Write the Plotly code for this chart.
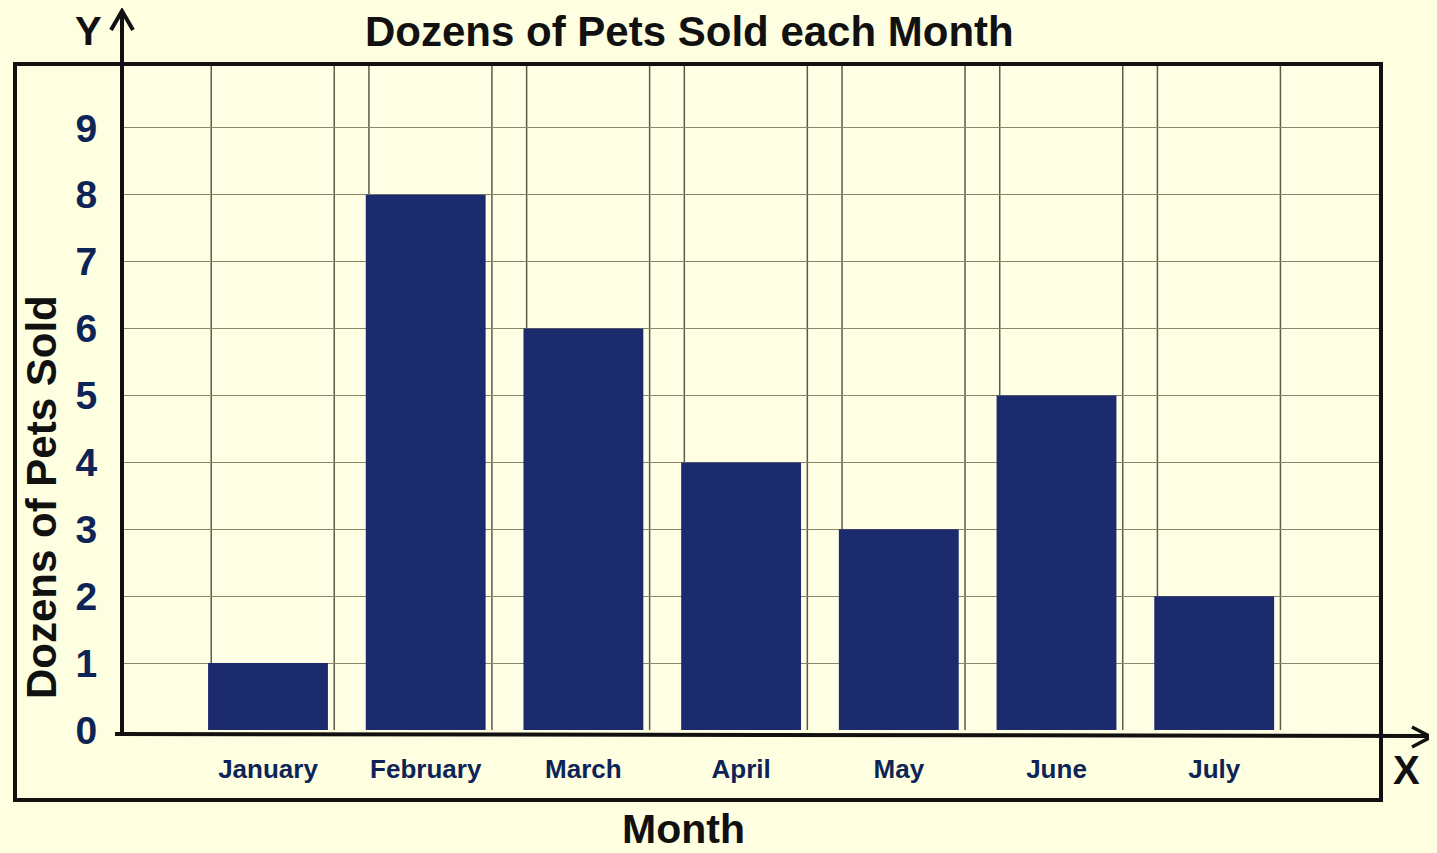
import plotly.graph_objects as go

months = ["January", "February", "March", "April", "May", "June", "July"]
dozens_sold = [1, 8, 6, 4, 3, 5, 2]
y_ticks = [0, 1, 2, 3, 4, 5, 6, 7, 8, 9]

O = 8  # page body margin offset
W, H = 1429, 845
L, R, T, B = 120, 1381, 62, 730  # plot area in screen pixels

def px(x):
    return (x - L) / (R - L)

def py(y):
    return (B - y) / (B - T)

BG = "#FEFEE0"
NAVY = "#1C2B6E"
LABEL = "#0E2456"

fig = go.Figure()
fig.add_trace(go.Bar(
    x=list(range(len(months))), y=dozens_sold,
    width=0.76, marker=dict(color=NAVY, line=dict(width=0)),
    hoverinfo="skip", showlegend=False,
))

shapes = []
for i in range(len(months)):
    for dx in (-0.36, 0.42):
        shapes.append(dict(type="line", xref="x", yref="paper",
                           x0=i + dx, x1=i + dx, y0=0, y1=1,
                           line=dict(color="#5a5a4a", width=1.5), layer="below"))
shapes.append(dict(type="rect", xref="paper", yref="paper",
                   x0=px(15), x1=px(1381), y0=py(800), y1=py(64),
                   line=dict(color="#111111", width=4), fillcolor="rgba(0,0,0,0)"))
shapes.append(dict(type="line", xref="paper", yref="paper",
                   x0=px(122), x1=px(122), y0=py(735), y1=py(12),
                   line=dict(color="#111111", width=4)))
shapes.append(dict(type="path", xref="paper", yref="paper",
                   path=f"M {px(111)} {py(30)} L {px(122)} {py(11)} L {px(133)} {py(30)}",
                   line=dict(color="#111111", width=4)))
shapes.append(dict(type="line", xref="paper", yref="paper",
                   x0=px(115), x1=px(1430), y0=py(734), y1=py(736),
                   line=dict(color="#111111", width=4)))
shapes.append(dict(type="path", xref="paper", yref="paper",
                   path=f"M {px(1412)} {py(727)} L {px(1431)} {py(737)} L {px(1412)} {py(747)}",
                   line=dict(color="#111111", width=3.5)))

FONT = "Liberation Sans, Arial, sans-serif"
annotations = [
    dict(text="<b>Dozens of Pets Sold each Month</b>", x=px(689), y=py(31),
         font=dict(size=42, color="#111111", family=FONT)),
    dict(text="<b>Y</b>", x=px(88), y=py(31),
         font=dict(size=40, color="#111111", family=FONT)),
    dict(text="<b>X</b>", x=px(1406), y=py(770),
         font=dict(size=40, color="#111111", family=FONT)),
    dict(text="<b>Month</b>", x=px(683), y=py(829),
         font=dict(size=41, color="#111111", family=FONT)),
    dict(text="<b>Dozens of Pets Sold</b>", x=px(42), y=py(497), textangle=-90,
         font=dict(size=42, color="#111111", family=FONT)),
]
for a in annotations:
    a.update(xref="paper", yref="paper", showarrow=False,
             xanchor="center", yanchor="middle")

fig.update_layout(
    width=W, height=H,
    margin=dict(l=L - O, r=W - (R - O), t=T - O, b=H - (B - O), pad=0),
    paper_bgcolor=BG, plot_bgcolor="#FFFFE6",
    shapes=shapes, annotations=annotations,
    xaxis=dict(range=[(L - 268) / 157.7, (R - 268) / 157.7],
               tickmode="array", tickvals=list(range(len(months))), ticktext=months,
               tickfont=dict(size=26, color=LABEL, family=FONT, weight="bold"),
               ticks="outside", ticklen=16, tickcolor="rgba(0,0,0,0)",
               showgrid=False, zeroline=False, showline=False, fixedrange=True),
    yaxis=dict(range=[0, (B - T) / 66.9],
               tickmode="array", tickvals=y_ticks,
               ticktext=[str(v) for v in y_ticks],
               tickfont=dict(size=39, color=LABEL, family=FONT, weight="bold"),
               ticks="outside", ticklen=14, tickcolor="rgba(0,0,0,0)",
               showgrid=True, gridcolor="#8a8468", gridwidth=1,
               zeroline=False, showline=False, fixedrange=True),
)

fig.write_html("out.html",
               post_script=f"document.body.style.background='{BG}';"
                           f"document.documentElement.style.background='{BG}';")
